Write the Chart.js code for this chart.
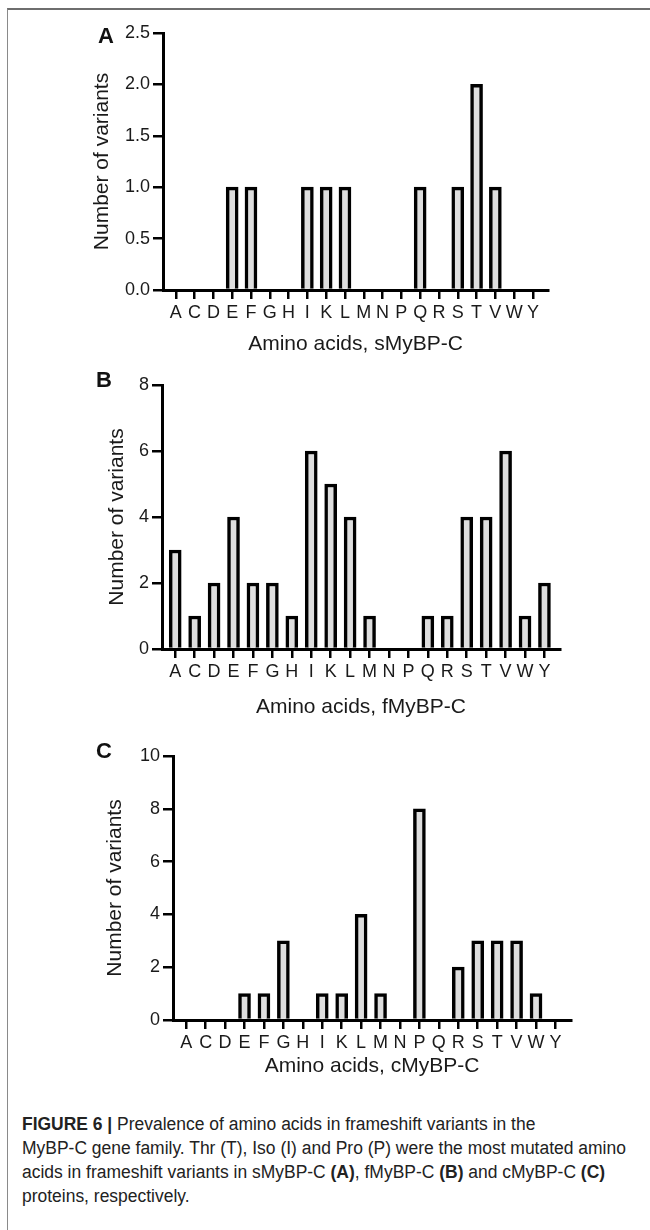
<!DOCTYPE html>
<html>
<head>
<meta charset="utf-8">
<script src="https://cdn.jsdelivr.net/npm/chart.js@4/dist/chart.umd.min.js"></script>
<style>
body { margin: 0; width: 650px; height: 1230px; background: #fff; position: relative; overflow: hidden; font-family: "Liberation Sans", Arial, sans-serif; }
#frame { position: absolute; left: 7px; top: 8px; width: 700px; height: 1300px; border-top: 2px solid #6e6e6e; border-left: 1px solid #8a8a8a; }
canvas { position: absolute; left: 0; }
.lab { position: absolute; font-weight: bold; font-size: 22px; color: #111; line-height: 22px; }
#cap { position: absolute; left: 22px; top: 1112px; font-size: 18px; line-height: 24px; color: #222; white-space: nowrap; transform: scaleX(0.97); transform-origin: 0 0; }
</style>
</head>
<body>
<div id="frame"></div>
<canvas id="chA" width="650" height="360" style="top:0px"></canvas>
<canvas id="chB" width="650" height="370" style="top:360px"></canvas>
<canvas id="chC" width="650" height="370" style="top:730px"></canvas>
<div class="lab" style="left:98px;top:25px">A</div>
<div class="lab" style="left:96px;top:369px">B</div>
<div class="lab" style="left:96px;top:740px">C</div>
<div id="cap"><b>FIGURE 6 |</b> Prevalence of amino acids in frameshift variants in the<br>MyBP-C gene family. Thr (T), Iso (I) and Pro (P) were the most mutated amino<br>acids in frameshift variants in sMyBP-C <b>(A)</b>, fMyBP-C <b>(B)</b> and cMyBP-C <b>(C)</b><br>proteins, respectively.</div>
<script>
// amino acids on the x axis, same for all three panels
const aminoAcids = ['A','C','D','E','F','G','H','I','K','L','M','N','P','Q','R','S','T','V','W','Y'];

// number of frameshift variants per amino acid
const sMyBPC = [0,0,0,1,1,0,0,1,1,1,0,0,0,1,0,1,2,1,0,0];
const fMyBPC = [3,1,2,4,2,2,1,6,5,4,1,0,0,1,1,4,4,6,1,2];
const cMyBPC = [0,0,0,1,1,3,0,1,1,4,1,0,8,0,2,3,3,3,1,0];

// y tick settings per panel: [max, step, decimals]
const yTicksA = [2.5, 0.5, 1];
const yTicksB = [8, 2, 0];
const yTicksC = [10, 2, 0];

const ink = '#1a1a1a';

function makePanel(id, values, yt, xTitle, lay) {
    return new Chart(document.getElementById(id), {
        type: 'bar',
        data: {
            labels: aminoAcids,
            datasets: [{
                data: values,
                backgroundColor: '#dedede',
                borderColor: '#000',
                borderWidth: 3.5,
                borderSkipped: 'start',
                barThickness: 12
            }]
        },
        options: {
            responsive: false,
            animation: false,
            layout: { padding: lay.pad },
            plugins: { legend: { display: false }, tooltip: { enabled: false } },
            scales: {
                x: {
                    offset: false,
                    grid: { offset: false, drawOnChartArea: false, color: '#000', lineWidth: 2.5, tickLength: 9 },
                    border: { color: '#000', width: 3 },
                    ticks: { color: ink, font: { size: 18 }, padding: 3, maxRotation: 0, autoSkip: false },
                    title: { display: true, text: xTitle, color: ink, font: { size: 21 }, padding: { top: 0, bottom: 3 } },
                    // a bit of room at both ends of the axis, as in the figure
                    afterBuildTicks: s => { s._startValue = -0.68; s._valueRange = 20.48; },
                    afterFit: s => { s.height = lay.xh; }
                },
                y: {
                    min: 0,
                    max: yt[0],
                    grid: { drawOnChartArea: false, color: '#000', lineWidth: 2.5, tickLength: 10 },
                    border: { color: '#000', width: 3 },
                    ticks: { stepSize: yt[1], color: ink, font: { size: 18 }, padding: 3,
                             callback: v => v.toFixed(yt[2]) },
                    title: { display: true, text: 'Number of variants', color: ink, font: { size: 21 }, padding: { top: 4, bottom: 0 } },
                    afterFit: s => { s.width = lay.yw; }
                }
            }
        }
    });
}

makePanel('chA', sMyBPC, yTicksA, 'Amino acids, sMyBP-C', { pad: { left: 86, top: 33, right: 102, bottom: 0 }, yw: 77, xh: 70 });
makePanel('chB', fMyBPC, yTicksB, 'Amino acids, fMyBP-C', { pad: { left: 101, top: 25, right: 90, bottom: 7 }, yw: 61, xh: 74 });
makePanel('chC', cMyBPC, yTicksC, 'Amino acids, cMyBP-C', { pad: { left: 99, top: 26, right: 79, bottom: 18 }, yw: 74, xh: 62 });
</script>
</body>
</html>
